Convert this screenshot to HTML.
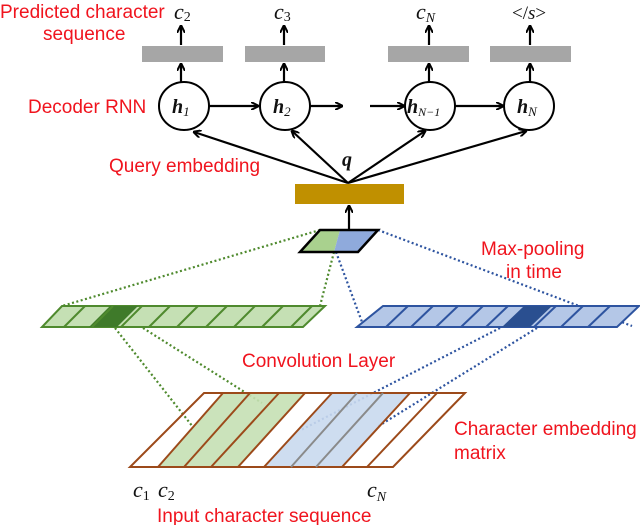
<!DOCTYPE html>
<html><head><meta charset="utf-8"><style>
html,body{margin:0;padding:0;background:#fff;}
svg{display:block;}
.r{font-family:"Liberation Sans",sans-serif;font-size:19px;fill:#f0141e;}
.m{font-family:"Liberation Serif",serif;font-style:italic;fill:#111;}
</style></head><body>
<svg width="640" height="525" viewBox="0 0 640 525" xmlns="http://www.w3.org/2000/svg">
<defs>
<marker id="a" markerWidth="8" markerHeight="8" refX="7" refY="4" orient="auto" markerUnits="userSpaceOnUse">
<path d="M0,0 L8,4 L0,8" fill="none" stroke="#000" stroke-width="2"/></marker>
</defs>
<g stroke="#000" stroke-width="2.2" fill="none">
<line x1="181" y1="45" x2="181" y2="26" marker-end="url(#a)"/>
<line x1="284" y1="45" x2="284" y2="26" marker-end="url(#a)"/>
<line x1="429" y1="45" x2="429" y2="26" marker-end="url(#a)"/>
<line x1="530" y1="45" x2="530" y2="26" marker-end="url(#a)"/>
<line x1="181" y1="82" x2="181" y2="64" marker-end="url(#a)"/>
<line x1="284" y1="82" x2="284" y2="64" marker-end="url(#a)"/>
<line x1="429" y1="82" x2="429" y2="64" marker-end="url(#a)"/>
<line x1="530" y1="82" x2="530" y2="64" marker-end="url(#a)"/>
<line x1="209" y1="106" x2="258" y2="106" marker-end="url(#a)"/>
<line x1="310" y1="106" x2="342" y2="106" marker-end="url(#a)"/>
<line x1="370" y1="106" x2="404" y2="106" marker-end="url(#a)"/>
<line x1="455" y1="106" x2="503" y2="106" marker-end="url(#a)"/>
<line x1="348" y1="183" x2="194" y2="132" marker-end="url(#a)"/>
<line x1="348" y1="183" x2="292" y2="131" marker-end="url(#a)"/>
<line x1="348" y1="183" x2="425" y2="131" marker-end="url(#a)"/>
<line x1="348" y1="183" x2="526" y2="131" marker-end="url(#a)"/>
<line x1="349" y1="230" x2="349" y2="206" marker-end="url(#a)"/>
</g>
<g fill="#a6a6a6">
<rect x="142" y="46" width="81" height="16"/><rect x="245" y="46" width="80" height="16"/>
<rect x="388" y="46" width="81" height="16"/><rect x="490" y="46" width="81" height="16"/>
</g>
<g fill="#fff" stroke="#000" stroke-width="2">
<ellipse cx="184" cy="106" rx="25" ry="24"/><ellipse cx="285" cy="106" rx="25" ry="24"/>
<ellipse cx="430" cy="106" rx="25" ry="24"/><ellipse cx="529" cy="106" rx="25" ry="24"/>
</g>
<g class="m" font-weight="bold" font-size="20">
<text x="172" y="113">h<tspan font-size="13" font-weight="normal" dy="3">1</tspan></text>
<text x="273" y="113">h<tspan font-size="13" font-weight="normal" dy="3">2</tspan></text>
<text x="407" y="113">h<tspan font-size="12" font-weight="normal" dy="3">N−1</tspan></text>
<text x="517" y="113">h<tspan font-size="13" font-weight="normal" dy="3">N</tspan></text>
<text x="342" y="166">q</text>
</g>
<g class="m" font-size="22">
<text x="174" y="19">c<tspan font-size="14" font-style="normal" dy="2">2</tspan></text>
<text x="274" y="19">c<tspan font-size="14" font-style="normal" dy="2">3</tspan></text>
<text x="416" y="19">c<tspan font-size="14" dy="3">N</tspan></text>
<text x="512" y="19" font-style="normal" font-size="19">&lt;/<tspan font-style="italic">s</tspan>&gt;</text>
<text x="133" y="497">c<tspan font-size="14" font-style="normal" dy="3">1</tspan></text>
<text x="158" y="497">c<tspan font-size="14" font-style="normal" dy="3">2</tspan></text>
<text x="367" y="497">c<tspan font-size="14" dy="4">N</tspan></text>
</g>
<rect x="295" y="184" width="109" height="20" fill="#c09000"/>
<g fill="none" stroke-width="2.2" stroke-dasharray="2,2.5">
<line x1="320" y1="230" x2="62" y2="306" stroke="#4f8a2e"/>
<line x1="334" y1="252" x2="320" y2="306" stroke="#4f8a2e"/>
<line x1="378" y1="230" x2="632" y2="326" stroke="#2e54a0"/>
<line x1="336" y1="252" x2="362" y2="322" stroke="#2e54a0"/>
<line x1="115" y1="328" x2="193" y2="427" stroke="#4f8a2e"/>
<line x1="143" y1="328" x2="262" y2="403" stroke="#4f8a2e"/>
<line x1="500" y1="328" x2="301" y2="430" stroke="#2e54a0"/>
<line x1="537" y1="328" x2="377" y2="427" stroke="#2e54a0"/>
</g>
<polygon points="320,230 340,230 334,252 300,252" fill="#a9d18e"/>
<polygon points="340,230 378,230 358,252 334,252" fill="#8faadc"/>
<polygon points="320,230 378,230 358,252 300,252" fill="none" stroke="#000" stroke-width="2.5"/>
<polygon points="62,306 325,306 303,327 42,327" fill="#c5e0b4" stroke="#4f8a2e" stroke-width="2"/>
<polygon points="110,306 138,306 117,327 89,327" fill="#3f7a2a"/>
<g stroke="#4f8a2e" stroke-width="2">
<line x1="85" y1="306" x2="64" y2="327"/><line x1="113" y1="306" x2="92" y2="327"/><line x1="142" y1="306" x2="121" y2="327"/>
<line x1="170" y1="306" x2="149" y2="327"/><line x1="198" y1="306" x2="177" y2="327"/><line x1="227" y1="306" x2="206" y2="327"/>
<line x1="255" y1="306" x2="234" y2="327"/><line x1="283" y1="306" x2="262" y2="327"/><line x1="312" y1="306" x2="291" y2="327"/>
</g>
<polygon points="383,306 639,306 617,327 357,327" fill="#b4c7e7" stroke="#2e54a0" stroke-width="2"/>
<polygon points="524,306 552,306 530,327 502,327" fill="#2a4f90"/>
<g stroke="#2e54a0" stroke-width="2">
<line x1="408" y1="306" x2="386" y2="327"/><line x1="433" y1="306" x2="411" y2="327"/><line x1="458" y1="306" x2="436" y2="327"/>
<line x1="483" y1="306" x2="461" y2="327"/><line x1="508" y1="306" x2="486" y2="327"/><line x1="556" y1="306" x2="534" y2="327"/>
<line x1="583" y1="306" x2="561" y2="327"/><line x1="610" y1="306" x2="588" y2="327"/>
</g>
<polygon points="223,393 305,393 238,467 158,467" fill="#c5e0b4" opacity="0.9"/>
<polygon points="332,393 410,393 342,467 264,467" fill="#c9d9ee" opacity="0.9"/>
<polygon points="204,393 465,393 393,467 130,467" fill="none" stroke="#9c4a1a" stroke-width="2"/>
<g stroke="#9c4a1a" stroke-width="2">
<line x1="223" y1="393" x2="158" y2="467"/><line x1="250" y1="393" x2="184" y2="467"/><line x1="279" y1="393" x2="211" y2="467"/>
<line x1="305" y1="393" x2="238" y2="467"/><line x1="332" y1="393" x2="264" y2="467"/>
<line x1="410" y1="393" x2="342" y2="467"/><line x1="437" y1="393" x2="367" y2="467"/>
</g>
<g stroke="#8a8a8a" stroke-width="2">
<line x1="357" y1="393" x2="291" y2="467"/><line x1="383" y1="393" x2="316" y2="467"/>
</g>
<text class="r" x="0" y="18">Predicted character</text>
<text class="r" x="43" y="40">sequence</text>
<text class="r" x="28" y="113">Decoder RNN</text>
<text class="r" x="109" y="172">Query embedding</text>
<text class="r" x="481" y="255">Max-pooling</text>
<text class="r" x="506" y="278">in time</text>
<text class="r" x="242" y="367">Convolution Layer</text>
<text class="r" x="454" y="435">Character embedding</text>
<text class="r" x="454" y="459">matrix</text>
<text class="r" x="157" y="522">Input character sequence</text>
</svg>
</body></html>
